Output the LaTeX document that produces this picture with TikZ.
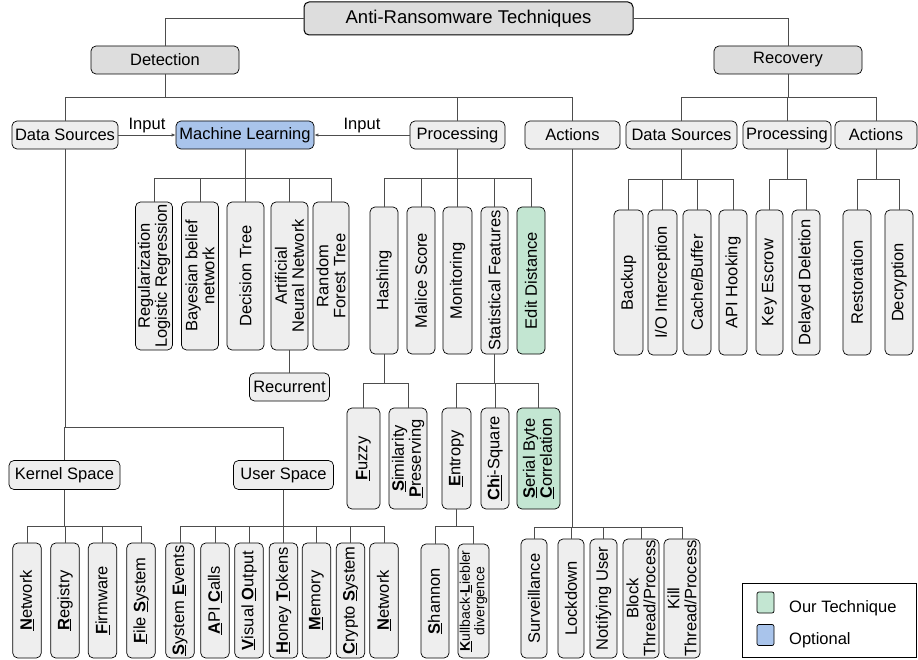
\documentclass[tikz,border=0pt]{standalone}
\usepackage{fontspec}
\setmainfont{Liberation Sans}
\usetikzlibrary{arrows.meta}

\definecolor{boxgray}{HTML}{EEEEEE}
\definecolor{headgray}{HTML}{DDDDDD}
\definecolor{optblue}{HTML}{A9C4EB}
\definecolor{ourgreen}{HTML}{C3E6D2}
\definecolor{linkgray}{HTML}{4D4D4D}

\newcommand{\keyl}[1]{\underline{\textbf{#1}}}
\newcommand{\branch}[4]{\foreach \c in {#3} \draw[link] (#1) -- (#1 |- 0,#2) -| (\c.#4);}

\begin{document}
\begin{tikzpicture}[x=1pt,y=-1pt,
  box/.style={draw, rounded corners=5pt, fill=boxgray, inner sep=1pt, line width=0.7pt, font=\fontsize{16.5}{17}\selectfont, align=center},
  head/.style={box, fill=headgray, minimum height=28},
  hbox/.style={box, minimum height=28},
  vbox/.style={box, rotate=90},
  link/.style={draw=linkgray, line width=0.8pt},
  feed/.style={link, -{Latex[length=4pt,width=3.5pt]}},
  lbl/.style={font=\fontsize{16.5}{17}\selectfont, above, inner sep=2pt}]
\useasboundingbox (0,0) rectangle (918,660);

\node[head, line width=1pt, font=\fontsize{18.5}{19}\selectfont, minimum width=329, minimum height=33] (root) at (468.5,18.5) {Anti-Ransomware Techniques};
\node[head, minimum width=148] (det) at (165,60) {Detection};
\node[head, minimum width=148] (rec) at (788,60) {Recovery};

\node[hbox, minimum width=106] (dsrc) at (65,135) {Data Sources};
\node[hbox, fill=optblue, minimum width=138] (ml) at (245,135) {Machine Learning};
\node[hbox, minimum width=95] (proc) at (457.5,135) {Processing};
\node[hbox, minimum width=95] (act) at (572.5,135) {Actions};
\node[hbox, minimum width=111] (rdsrc) at (681.5,135) {Data Sources};
\node[hbox, minimum width=88] (rproc) at (787,135) {Processing};
\node[hbox, minimum width=82] (ract) at (876,135) {Actions};
\node[hbox, minimum width=80] (recur) at (289.5,387) {Recurrent};
\node[hbox, minimum width=111, minimum height=29] (kern) at (64.5,475) {Kernel Space};
\node[hbox, minimum width=100, minimum height=29] (user) at (283.5,475) {User Space};

\foreach \n/\x/\w/\t in {lr/154/37/{Regularization\\Logistic Regression}, bbn/200/37/{Bayesian belief\\network},
    dt/245.5/37/Decision Tree, ann/289.5/37/{Artificial\\Neural Network}, rf/331/36/{Random\\Forest Tree}}
  \node[vbox, minimum width=148, minimum height=\w] (\n) at (\x,276) {\t};

\foreach \n/\x/\w/\t in {hash/384/28/Hashing, mal/421/28/Malice Score, mon/457.5/29/Monitoring, stat/494.5/27/Statistical Features}
  \node[vbox, minimum width=147, minimum height=\w] (\n) at (\x,280.5) {\t};
\node[vbox, fill=ourgreen, minimum width=147, minimum height=28] (edit) at (531,280.5) {Edit Distance};

\node[vbox, minimum width=101, minimum height=33] (fuzzy) at (363.5,458.5) {\keyl{F}uzzy};
\node[vbox, minimum width=101, minimum height=38] (simp) at (408,458.5) {\keyl{S}imilarity\\\keyl{P}reserving};
\node[vbox, minimum width=101, minimum height=29] (ent) at (456.5,458.5) {\keyl{E}ntropy};
\node[vbox, minimum width=101, minimum height=28] (chi) at (495,458.5) {\underline{\textbf{Ch}i}-Square};
\node[vbox, fill=ourgreen, minimum width=101, minimum height=43] (sbc) at (538.5,458.5) {\keyl{S}erial Byte\\\keyl{C}orrelation};

\node[vbox, minimum width=114, minimum height=28] (shan) at (435,601) {\keyl{S}hannon};
\node[vbox, font=\fontsize{14}{14.5}\selectfont, minimum width=114, minimum height=31] (kl) at (473.5,601) {\keyl{K}ullback-\keyl{L}iebler\\divergence};

\foreach \n/\x/\w/\t in {surv/534/26/Surveillance, lock/571/26/Lockdown, notif/603.5/27/Notifying User,
    block/641/36/{Block\\Thread/Process}, kill/682/36/{Kill\\Thread/Process}}
  \node[vbox, minimum width=119, minimum height=\w] (\n) at (\x,598.5) {\t};

\foreach \n/\x/\t in {knet/27/{\keyl{N}etwork}, reg/65/{\keyl{R}egistry}, firm/102.5/{\keyl{F}irmware}, fs/141/{\keyl{F}ile \keyl{S}ystem},
    sev/180/{\keyl{S}ystem \keyl{E}vents}, api/215/{\keyl{A}PI \keyl{C}alls}, vis/249/{\keyl{V}isual \keyl{O}utput},
    honey/283.5/{\keyl{H}oney \keyl{T}okens}, mem/316.5/{\keyl{M}emory}, crypto/350.5/{\keyl{C}rypto \keyl{S}ystem}, unet/384/{\keyl{N}etwork}}
  \node[vbox, minimum width=115, minimum height=28.5] (\n) at (\x,600.5) {\t};

\foreach \n/\x/\w/\t in {backup/628.5/29/Backup, io/662.5/29/{I/O Interception}, cache/697/28/{Cache/Buffer}, hook/733/28/API Hooking,
    key/769.5/27/Key Escrow, del/806/28/Delayed Deletion, rest/857/28/Restoration, decr/899/28/Decryption}
  \node[vbox, minimum width=145, minimum height=\w] (\n) at (\x,282.5) {\t};

\draw[link] (root.west) -| (det.north);
\draw[link] (root.east) -| (rec.north);
\branch{det.south}{97}{dsrc,proc,act}{north}
\branch{rec.south}{97}{rdsrc,rproc,ract}{north}
\branch{ml.south}{178}{lr,bbn,dt,ann,rf}{east}
\branch{proc.south}{178}{hash,mal,mon,stat,edit}{east}
\branch{hash.west}{383}{fuzzy,simp}{east}
\branch{stat.west}{383}{ent,chi,sbc}{east}
\branch{ent.west}{526}{shan,kl}{east}
\branch{act.south}{527}{surv,lock,notif,block,kill}{east}
\branch{dsrc.south}{427}{kern,user}{north}
\branch{kern.south}{526}{knet,reg,firm,fs}{east}
\branch{user.south}{526}{sev,api,vis,honey,mem,crypto,unet}{east}
\branch{rdsrc.south}{179}{backup,io,cache,hook}{east}
\branch{rproc.south}{179}{key,del}{east}
\branch{ract.south}{179}{rest,decr}{east}
\draw[link] (ann.west) -- (recur.north);
\draw[feed] (dsrc) -- node[lbl] {Input} (ml);
\draw[feed] (proc) -- node[lbl] {Input} (ml);

\node[draw, line width=0.7pt, minimum width=174, minimum height=74] (legend) at (829,620) {};
\node[box, fill=ourgreen, rounded corners=2pt, minimum width=17, minimum height=21] (ours) at (765.5,602.5) {};
\node[box, fill=optblue, rounded corners=2pt, minimum width=17, minimum height=21] (opt) at (765.5,635) {};
\node[lbl, anchor=west] (ourstext) at (787,608) {Our Technique};
\node[lbl, anchor=west] (opttext) at (787,640) {Optional};
\end{tikzpicture}
\end{document}
